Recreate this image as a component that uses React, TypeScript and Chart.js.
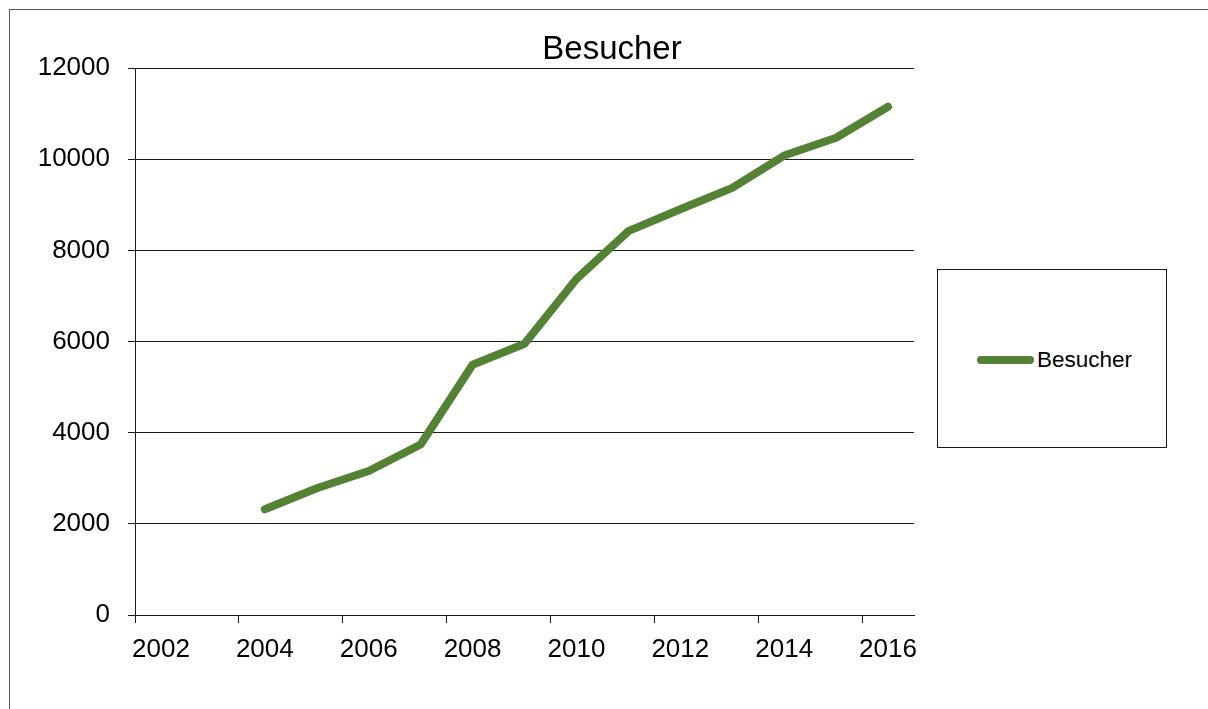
import React, { useEffect, useRef } from "react";
import { Chart, registerables } from "chart.js";

Chart.register(...registerables);

const title = "Besucher";
const seriesName = "Besucher";
const years = ["2002", "2003", "2004", "2005", "2006", "2007", "2008", "2009", "2010", "2011", "2012", "2013", "2014", "2015", "2016"];
const visitors: (number | null)[] = [null, null, 2320, 2780, 3160, 3740, 5490, 5950, 7370, 8420, 8900, 9370, 10080, 10470, 11150];
const yMin = 0;
const yMax = 12000;
const yStep = 2000;

const FONT = "'Liberation Sans', Arial, sans-serif";
const LINE_COLOR = "#548235";
const AXIS_COLOR = "#1a1a1a";

export default function App() {
  const canvasRef = useRef<HTMLCanvasElement | null>(null);

  useEffect(() => {
    document.body.style.overflow = "hidden";
    document.documentElement.style.overflow = "hidden";
    const canvas = canvasRef.current;
    if (!canvas) return;
    const chart = new Chart(canvas, {
      type: "line",
      data: {
        labels: years,
        datasets: [
          {
            label: seriesName,
            data: visitors,
            borderColor: LINE_COLOR,
            backgroundColor: LINE_COLOR,
            borderWidth: 8,
            borderCapStyle: "round",
            borderJoinStyle: "round",
            pointRadius: 0,
            tension: 0,
            spanGaps: false,
          },
        ],
      },
      options: {
        responsive: false,
        animation: false,
        devicePixelRatio: 1,
        layout: { padding: { left: 35, right: 294, top: 68, bottom: 34 } },
        plugins: {
          legend: { display: false },
          title: { display: false },
          tooltip: { enabled: false },
        },
        scales: {
          x: {
            type: "category",
            offset: true,
            afterFit: (s: any) => {
              s.height = 60;
            },
            grid: {
              display: true,
              offset: true,
              drawOnChartArea: false,
              drawTicks: true,
              tickLength: 8,
              lineWidth: 1,
              color: (ctx: any) =>
                ctx.index !== undefined && ctx.index % 2 === 0 ? AXIS_COLOR : "rgba(0,0,0,0)",
            },
            border: { display: true, color: AXIS_COLOR, width: 1 },
            ticks: {
              autoSkip: false,
              maxRotation: 0,
              minRotation: 0,
              padding: 11,
              color: "#000",
              font: { family: FONT, size: 26 },
              callback: (_v: any, i: number) => (i % 2 === 0 ? years[i] : ""),
            },
          },
          y: {
            min: yMin,
            max: yMax,
            afterFit: (s: any) => {
              s.width = 100;
            },
            grid: {
              color: AXIS_COLOR,
              lineWidth: 1,
              tickLength: 7,
              drawTicks: true,
            },
            border: { display: true, color: AXIS_COLOR, width: 1 },
            ticks: {
              stepSize: yStep,
              padding: 18,
              color: "#000",
              font: { family: FONT, size: 26 },
              callback: (v: any) => String(v),
            },
          },
        },
      },
    });
    return () => chart.destroy();
  }, []);

  return (
    <div style={{ position: "fixed", left: 0, top: 0, width: 1208, height: 709, background: "#fff", overflow: "hidden", fontFamily: FONT }}>
      <div
        style={{
          position: "absolute",
          left: 9,
          top: 9,
          width: 1300,
          height: 800,
          borderTop: "1px solid #555",
          borderLeft: "1px solid #555",
        }}
      />
      <canvas ref={canvasRef} width={1208} height={709} style={{ position: "absolute", left: 0, top: 0 }} />
      <div
        style={{
          position: "absolute",
          left: 412,
          width: 400,
          top: 31,
          textAlign: "center",
          fontSize: 33,
          lineHeight: "33px",
          color: "#000",
        }}
      >
        {title}
      </div>
      <div
        style={{
          position: "absolute",
          left: 937,
          top: 269,
          width: 228,
          height: 177,
          border: "1px solid #1a1a1a",
          background: "#fff",
        }}
      >
        <div
          style={{
            position: "absolute",
            left: 39,
            top: 86,
            width: 57,
            height: 8,
            borderRadius: 4,
            background: LINE_COLOR,
          }}
        />
        <div
          style={{
            position: "absolute",
            left: 99,
            top: 79,
            fontSize: 22.5,
            lineHeight: "22px",
            color: "#000",
            whiteSpace: "nowrap",
          }}
        >
          {seriesName}
        </div>
      </div>
    </div>
  );
}
